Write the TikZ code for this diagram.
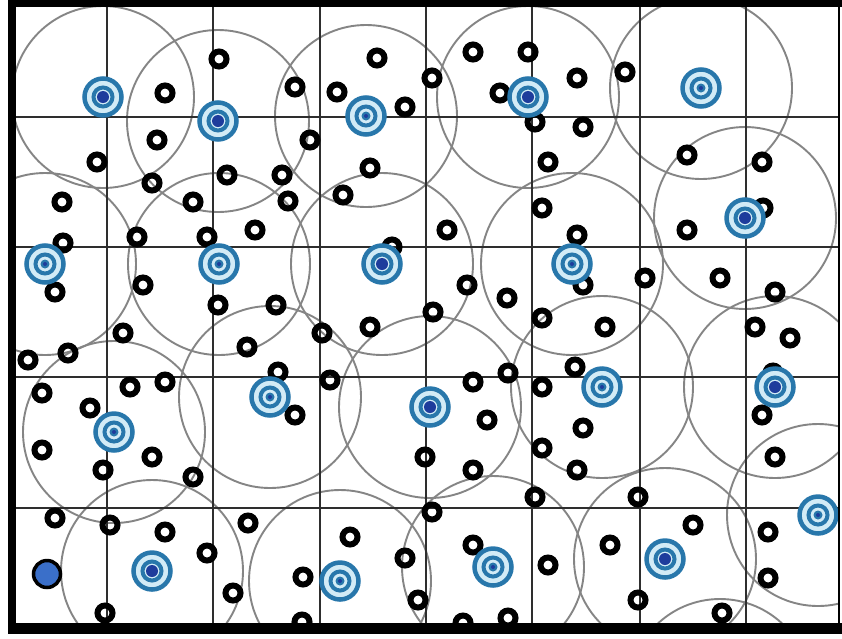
\documentclass[tikz,border=0pt]{standalone}
\definecolor{rangegray}{HTML}{858585}
\definecolor{headblue}{HTML}{2877AB}
\definecolor{paleblue}{HTML}{D2EBF6}
\definecolor{coreblue}{HTML}{1E3C9C}
\definecolor{sinkblue}{HTML}{3A6FC9}
\begin{document}
\begin{tikzpicture}[x=1pt,y=-1pt,
    reach/.style={draw=rangegray, line width=1.9pt},
    gridline/.style={draw=black!82, line width=2.9pt},
    sensor/.style={draw=black, line width=6pt},
    head/.style={draw=headblue, line width=4.5pt}]
    \useasboundingbox (0,0) rectangle (842,638);
    \fill[white] (0,0) rectangle (842,638);

    \begin{scope}
        \clip (15,7) rectangle (839,623);
        % Alcance
        \foreach \x/\y in {103/97, 218/121, 366/116, 528/97, 701/88, 745/218,
            45/264, 219/264, 382/264, 572/264, 270/397, 430/407, 602/387,
            775/387, 114/432, 818/515, 152/571, 340/581, 493/567, 665/559, 720/690}
            \draw[reach] (\x,\y) circle (91pt);

        % Rejilla
        \foreach \x in {107,213,320,426,532,640,746}
            \draw[gridline] (\x,0) -- (\x,638);
        \foreach \y in {117,247,377,508}
            \draw[gridline] (0,\y) -- (842,\y);

        % Sensores
        \foreach \x/\y in {219/59, 165/93, 157/140, 97/162, 152/183, 62/202, 193/202,
            227/175, 282/175, 288/201, 295/87, 337/92, 377/58, 405/107, 432/78,
            473/52, 528/52, 500/93, 535/122, 548/162, 542/208, 310/140, 370/168,
            343/195, 577/78, 625/72, 583/127, 687/155, 762/162, 763/208,
            63/243, 55/292, 28/360, 68/353, 42/393, 90/408, 137/237, 143/285,
            123/333, 130/387, 165/382, 207/237, 255/230, 218/305, 247/347,
            276/305, 278/372, 447/230, 392/247, 467/285, 433/312, 370/327,
            322/333, 507/298, 542/318, 330/380, 295/415, 473/382, 508/373,
            542/387, 487/420, 577/235, 687/230, 583/285, 645/278, 720/278,
            775/292, 605/327, 755/327, 790/338, 575/367, 773/373, 762/415,
            42/450, 152/457, 103/470, 193/477, 55/518, 110/525, 165/532,
            207/553, 248/523, 233/593, 105/613, 425/457, 473/470, 542/448,
            535/497, 432/512, 350/537, 405/558, 303/577, 418/600, 302/622,
            473/545, 548/565, 463/623, 508/618, 583/428, 577/470, 638/497,
            775/457, 693/525, 610/545, 768/532, 638/600, 722/613, 768/578}
            \draw[sensor] (\x,\y) circle (7.5pt);

        % Cabezas de grupo
        \foreach \x/\y/\r in {103/97/6, 218/121/6, 366/116/2, 528/97/6, 701/88/2,
            745/218/6, 45/264/2, 219/264/2, 382/264/6, 572/264/2, 270/397/2,
            430/407/6, 602/387/2, 775/387/6, 114/432/2, 818/515/2, 152/571/6,
            340/581/2, 493/567/2, 665/559/6} {
            \fill[paleblue] (\x,\y) circle (17pt);
            \draw[head] (\x,\y) circle (18.5pt);
            \draw[head, line width=4pt] (\x,\y) circle (9.5pt);
            \fill[headblue] (\x,\y) circle (4.5pt);
            \fill[coreblue] (\x,\y) circle (\r pt);
        }

        % Sumidero
        \draw[line width=3.5pt, fill=sinkblue] (47,574) circle (13.5pt);
    \end{scope}

    % Marco
    \fill (8,0) rectangle (842,7);
    \fill (8,0) rectangle (16,634);
    \fill (8,623) rectangle (842,634);
    \draw[line width=2pt] (839,0) -- (839,634);
\end{tikzpicture}
\end{document}
